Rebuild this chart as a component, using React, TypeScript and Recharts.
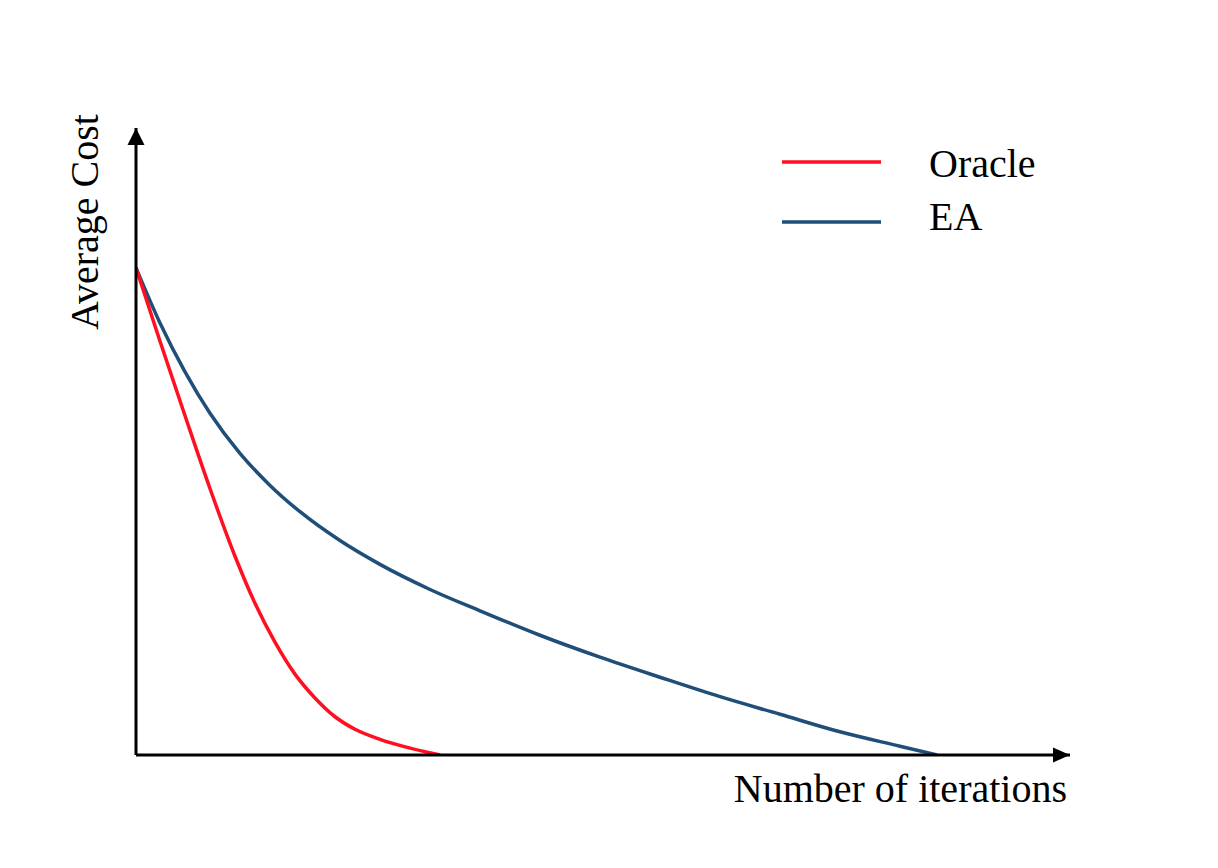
import { LineChart, Line, XAxis, YAxis, ReferenceDot, Legend } from 'recharts'

// values (x: iterations 0-100, y: cost 0-100)
const oracleX = [0, 2.57, 5.25, 7.92, 10.6, 12.74, 14.88, 17.02, 19.16, 21.31, 23.45, 26.12, 29.34, 32.55]
const oracleY = [77.7, 66.0, 54.1, 42.5, 31.7, 24.2, 18.0, 12.9, 9.1, 6.1, 4.1, 2.5, 1.1, 0]
const eaX = [0, 2.57, 5.25, 7.92, 11.13, 14.35, 17.56, 21.84, 26.12, 31.48, 36.83, 43.25, 49.68, 56.1, 62.53, 68.95, 75.37, 81.8, 85.76]
const eaY = [77.7, 68.9, 61.1, 54.5, 48.1, 43.0, 38.8, 34.2, 30.4, 26.4, 23.0, 19.1, 15.6, 12.4, 9.3, 6.5, 3.7, 1.4, 0]

const seriesNames = ['Oracle', 'EA']
const seriesColors = ['#FF0F1F', '#1F4E79']
const xLabel = 'Number of iterations'
const yLabel = 'Average Cost'

const oracleData = oracleX.map((x, i) => ({ x, y: oracleY[i] }))
const eaData = eaX.map((x, i) => ({ x, y: eaY[i] }))

const font = "'Liberation Serif', 'Times New Roman', serif"

const RightArrow = (props: any) => {
  const { cx, cy } = props
  return <path d={`M${cx},${cy} L${cx - 17},${cy - 7.5} L${cx - 17},${cy + 7.5} Z`} fill="#000" />
}

const UpArrow = (props: any) => {
  const { cx, cy } = props
  return <path d={`M${cx},${cy} L${cx - 8.5},${cy + 17} L${cx + 8.5},${cy + 17} Z`} fill="#000" />
}

const LegendBox = () => (
  <svg width={300} height={120}>
    {seriesNames.map((name, i) => (
      <g key={name}>
        <line x1={12} x2={111} y1={32 + i * 60} y2={32 + i * 60} stroke={seriesColors[i]} strokeWidth={3.5} />
        <text x={159} y={47 + i * 53} fontFamily={font} fontSize={40} fill="#000">
          {name}
        </text>
      </g>
    ))}
  </svg>
)

export default function App() {
  return (
    <div style={{ position: 'absolute', left: 0, top: 0, background: '#fff' }}>
      <LineChart width={1218} height={868} margin={{ top: 128, right: 148, bottom: 112, left: 135 }}>
        <XAxis
          type="number"
          dataKey="x"
          domain={[0, 100]}
          height={1}
          tick={false}
          tickLine={false}
          axisLine={{ stroke: '#000', strokeWidth: 3 }}
          allowDataOverflow
          label={(p: any) => {
            const vb = p.viewBox
            return (
              <text x={vb.x + vb.width - 3} y={vb.y + 47} textAnchor="end" fontFamily={font} fontSize={40} fill="#000">
                {xLabel}
              </text>
            )
          }}
        />
        <YAxis
          type="number"
          dataKey="y"
          domain={[0, 100]}
          width={1}
          tick={false}
          tickLine={false}
          axisLine={{ stroke: '#000', strokeWidth: 3 }}
          allowDataOverflow
          label={(p: any) => {
            const vb = p.viewBox
            const cx = vb.x + vb.width - 38
            const cy = 222
            return (
              <text
                x={cx}
                y={cy}
                transform={`rotate(-90 ${cx} ${cy})`}
                textAnchor="middle"
                fontFamily={font}
                fontSize={40}
                fill="#000"
              >
                {yLabel}
              </text>
            )
          }}
        />
        <Legend
          layout="horizontal"
          align="center"
          verticalAlign="middle"
          wrapperStyle={{ position: 'absolute', left: 770, top: 130, width: 300, height: 120 }}
          content={() => <LegendBox />}
        />
        <Line
          data={eaData}
          dataKey="y"
          name={seriesNames[1]}
          type="monotone"
          stroke={seriesColors[1]}
          strokeWidth={3.5}
          dot={false}
          isAnimationActive={false}
        />
        <Line
          data={oracleData}
          dataKey="y"
          name={seriesNames[0]}
          type="monotone"
          stroke={seriesColors[0]}
          strokeWidth={3.5}
          dot={false}
          isAnimationActive={false}
        />
        <ReferenceDot x={100} y={0} ifOverflow="visible" shape={RightArrow} />
        <ReferenceDot x={0} y={100} ifOverflow="visible" shape={UpArrow} />
      </LineChart>
    </div>
  )
}
